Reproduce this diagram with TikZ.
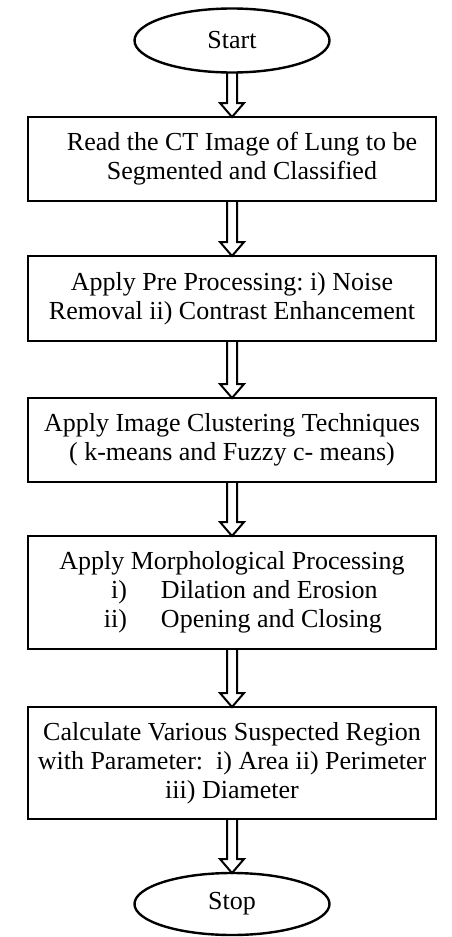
\documentclass[tikz,border=0pt]{standalone}
\usepackage{fontspec}
\setmainfont{Liberation Serif}
\usetikzlibrary{shapes.geometric,calc}

% hollow block arrow from the bottom of node #1 to the top of node #2
\newcommand{\hollowarrow}[2]{%
  \draw[hollow] ($(#1.south)+(-5,0)$) -- ($(#2.north)+(-5,-14)$)
    -- ($(#2.north)+(-12,-14)$) -- (#2.north) -- ($(#2.north)+(12,-14)$)
    -- ($(#2.north)+(5,-14)$) -- ($(#1.south)+(5,0)$);}

\begin{document}
\frenchspacing
\begin{tikzpicture}[x=1pt,y=-1pt,
  every node/.style={font=\fontsize{26}{29}\selectfont, outer sep=0pt},
  stepbox/.style={draw, line width=2.4pt, rectangle, minimum width=408pt,
    inner xsep=0pt, inner ysep=0pt, align=center},
  terminal/.style={draw, line width=2.4pt, ellipse, minimum width=195pt,
    minimum height=64pt, inner sep=0pt},
  hollow/.style={line width=2pt, line join=miter}]
\useasboundingbox (0,0) rectangle (451,937);

\node[terminal] (start) at (232,40.5) {Start};
\node[stepbox, minimum height=84pt] (read) at (232,159)
  {\hspace*{20pt}Read the CT Image of Lung to be\\\hspace*{20pt}Segmented and Classified};
\node[stepbox, minimum height=85pt] (pre) at (232,298.5)
  {Apply Pre Processing: i) Noise\\Removal ii) Contrast Enhancement};
\node[stepbox, minimum height=84pt] (clust) at (232,440)
  {Apply Image Clustering Techniques\\( k-means and Fuzzy c- means)};
\node[stepbox, minimum height=113pt] (morph) at (232,592.5)
  {Apply Morphological Processing\\
   \makebox[400pt][l]{\hspace*{95pt}\llap{i)}\hspace*{34pt}Dilation and Erosion}\\
   \makebox[400pt][l]{\hspace*{95pt}\llap{ii)}\hspace*{34pt}Opening and Closing}};
\node[stepbox, minimum height=112pt] (measure) at (232,763)
  {Calculate Various Suspected Region\\with Parameter:\ \ i) Area ii) Perimeter\\iii) Diameter};
\node[terminal, minimum height=62pt] (stop) at (232,904) {Stop};

\hollowarrow{start}{read}
\hollowarrow{read}{pre}
\hollowarrow{pre}{clust}
\hollowarrow{clust}{morph}
\hollowarrow{morph}{measure}
\hollowarrow{measure}{stop}
\end{tikzpicture}
\end{document}
